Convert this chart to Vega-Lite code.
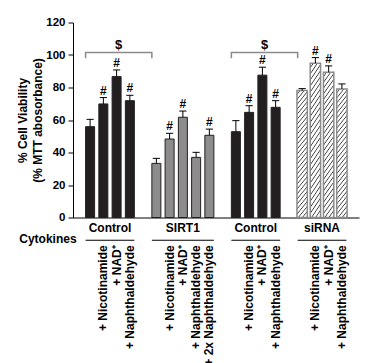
{
  "$schema": "https://vega.github.io/schema/vega-lite/v6.json",
  "width": 286,
  "height": 195,
  "autosize": "none",
  "padding": {"left": 73, "top": 22.5, "right": 13, "bottom": 145.5},
  "background": "white",
  "config": {
    "view": {"stroke": null},
    "font": "Liberation Sans",
    "axis": {"labelFont": "Liberation Sans", "titleFont": "Liberation Sans", "labelFontWeight": "bold", "titleFontWeight": "bold", "labelColor": "black", "titleColor": "black", "domainColor": "black", "tickColor": "black", "grid": false},
    "axisY": {"tickCount": 7, "tickSize": 5, "labelFontSize": 11.5, "labelPadding": 3, "labelOverlap": false, "labelFlush": false, "titleFontSize": 12, "titleLineHeight": 15, "titlePadding": 1},
    "axisX": {"labels": false, "ticks": false, "domainColor": "black", "domainWidth": 1}
  },
  "datasets": {
    "bars": [
      {"bar": "C1", "kind": "black", "value": 55.9, "upper": 60.4, "sig": "", "label": ""},
      {"bar": "C2", "kind": "black", "value": 69.9, "upper": 73.8, "sig": "#", "label": "+ Nicotinamide"},
      {"bar": "C3", "kind": "black", "value": 86.7, "upper": 90.8, "sig": "#", "label": "+ NAD⁺"},
      {"bar": "C4", "kind": "black", "value": 71.9, "upper": 75.2, "sig": "#", "label": "+ Naphthaldehyde"},
      {"bar": "S1", "kind": "gray", "value": 33.3, "upper": 36.4, "sig": "", "label": ""},
      {"bar": "S2", "kind": "gray", "value": 48.3, "upper": 51.8, "sig": "#", "label": "+ Nicotinamide"},
      {"bar": "S3", "kind": "gray", "value": 61.7, "upper": 65.5, "sig": "#", "label": "+ NAD⁺"},
      {"bar": "S4", "kind": "gray", "value": 37.0, "upper": 40.1, "sig": "", "label": "+ Naphthaldehyde"},
      {"bar": "S5", "kind": "gray", "value": 50.6, "upper": 54.4, "sig": "#", "label": "+ 2x Naphthaldehyde"},
      {"bar": "D1", "kind": "black", "value": 52.8, "upper": 59.6, "sig": "", "label": ""},
      {"bar": "D2", "kind": "black", "value": 64.7, "upper": 68.8, "sig": "#", "label": "+ Nicotinamide"},
      {"bar": "D3", "kind": "black", "value": 87.6, "upper": 92.5, "sig": "#", "label": "+ NAD⁺"},
      {"bar": "D4", "kind": "black", "value": 67.8, "upper": 71.9, "sig": "#", "label": "+ Naphthaldehyde"},
      {"bar": "R1", "kind": "hatch", "value": 78.1, "upper": 79.3, "sig": "", "label": ""},
      {"bar": "R2", "kind": "hatch", "value": 95.0, "upper": 98.4, "sig": "#", "label": "+ Nicotinamide"},
      {"bar": "R3", "kind": "hatch", "value": 89.4, "upper": 93.3, "sig": "#", "label": "+ NAD⁺"},
      {"bar": "R4", "kind": "hatch", "value": 79.1, "upper": 82.2, "sig": "", "label": "+ Naphthaldehyde"}
    ],
    "groups": [
      {"group": "Control", "first": "C1", "last": "C4", "mid": "C2", "n": 4},
      {"group": "SIRT1", "first": "S1", "last": "S5", "mid": "S3", "n": 5},
      {"group": "Control", "first": "D1", "last": "D4", "mid": "D2", "n": 4},
      {"group": "siRNA", "first": "R1", "last": "R4", "mid": "R2", "n": 4}
    ],
    "brackets": [
      {"br": "b1", "bar": "C1", "y": 98.0, "o": 0},
      {"br": "b1", "bar": "C1", "y": 101.5, "o": 1},
      {"br": "b1", "bar": "S1", "y": 101.5, "o": 2},
      {"br": "b1", "bar": "S1", "y": 98.0, "o": 3},
      {"br": "b2", "bar": "D1", "y": 98.0, "o": 0},
      {"br": "b2", "bar": "D1", "y": 101.5, "o": 1},
      {"br": "b2", "bar": "R1", "y": 101.5, "o": 2},
      {"br": "b2", "bar": "R1", "y": 98.0, "o": 3}
    ],
    "bracketLabels": [
      {"mid": "C3", "sym": "$", "y": 101.5},
      {"mid": "D3", "sym": "$", "y": 101.5}
    ]
  },
  "layer": [
    {
      "data": {"name": "bars"},
      "transform": [{"filter": "datum.kind != 'hatch'"}],
      "mark": {"type": "bar", "stroke": "#231f20", "strokeWidth": 1},
      "encoding": {
        "x": {"field": "bar", "type": "nominal", "sort": null,
          "scale": {"domain": ["C1","C2","C3","C4","gapA","S1","S2","S3","S4","S5","gapB","D1","D2","D3","D4","gapC","R1","R2","R3","R4"], "paddingInner": 0.32, "paddingOuter": 0.95},
          "axis": {"title": null}},
        "y": {"field": "value", "type": "quantitative",
          "scale": {"domain": [0, 120], "nice": false},
          "axis": {"title": ["% Cell Viability", "(% MTT abosorbance)"]}},
        "fill": {"field": "kind", "type": "nominal", "scale": {"domain": ["black", "gray"], "range": ["#231f20", "#8c8c8c"]}, "legend": null}
      }
    },
    {
      "data": {"name": "bars"},
      "transform": [{"filter": "datum.kind == 'hatch'"}],
      "mark": {"type": "bar", "stroke": "#8a8a8a", "strokeWidth": 1.5, "width": {"band": 1.15},
        "fill": {"gradient": "linear", "x1": 0, "y1": 0, "x2": 0.109, "y2": 1.089, "stops": [
          {"offset": 0, "color": "#ffffff"},
          {"offset": 0.0196, "color": "#ffffff"}, {"offset": 0.0279, "color": "#3a3a3a"}, {"offset": 0.0357, "color": "#ffffff"},
          {"offset": 0.0553, "color": "#ffffff"}, {"offset": 0.0636, "color": "#3a3a3a"}, {"offset": 0.0714, "color": "#ffffff"},
          {"offset": 0.0910, "color": "#ffffff"}, {"offset": 0.0993, "color": "#3a3a3a"}, {"offset": 0.1071, "color": "#ffffff"},
          {"offset": 0.1267, "color": "#ffffff"}, {"offset": 0.1350, "color": "#3a3a3a"}, {"offset": 0.1429, "color": "#ffffff"},
          {"offset": 0.1625, "color": "#ffffff"}, {"offset": 0.1708, "color": "#3a3a3a"}, {"offset": 0.1786, "color": "#ffffff"},
          {"offset": 0.1982, "color": "#ffffff"}, {"offset": 0.2065, "color": "#3a3a3a"}, {"offset": 0.2143, "color": "#ffffff"},
          {"offset": 0.2339, "color": "#ffffff"}, {"offset": 0.2422, "color": "#3a3a3a"}, {"offset": 0.2500, "color": "#ffffff"},
          {"offset": 0.2696, "color": "#ffffff"}, {"offset": 0.2779, "color": "#3a3a3a"}, {"offset": 0.2857, "color": "#ffffff"},
          {"offset": 0.3053, "color": "#ffffff"}, {"offset": 0.3136, "color": "#3a3a3a"}, {"offset": 0.3214, "color": "#ffffff"},
          {"offset": 0.3410, "color": "#ffffff"}, {"offset": 0.3493, "color": "#3a3a3a"}, {"offset": 0.3571, "color": "#ffffff"},
          {"offset": 0.3767, "color": "#ffffff"}, {"offset": 0.3850, "color": "#3a3a3a"}, {"offset": 0.3929, "color": "#ffffff"},
          {"offset": 0.4125, "color": "#ffffff"}, {"offset": 0.4208, "color": "#3a3a3a"}, {"offset": 0.4286, "color": "#ffffff"},
          {"offset": 0.4482, "color": "#ffffff"}, {"offset": 0.4565, "color": "#3a3a3a"}, {"offset": 0.4643, "color": "#ffffff"},
          {"offset": 0.4839, "color": "#ffffff"}, {"offset": 0.4922, "color": "#3a3a3a"}, {"offset": 0.5000, "color": "#ffffff"},
          {"offset": 0.5196, "color": "#ffffff"}, {"offset": 0.5279, "color": "#3a3a3a"}, {"offset": 0.5357, "color": "#ffffff"},
          {"offset": 0.5553, "color": "#ffffff"}, {"offset": 0.5636, "color": "#3a3a3a"}, {"offset": 0.5714, "color": "#ffffff"},
          {"offset": 0.5910, "color": "#ffffff"}, {"offset": 0.5993, "color": "#3a3a3a"}, {"offset": 0.6071, "color": "#ffffff"},
          {"offset": 0.6267, "color": "#ffffff"}, {"offset": 0.6350, "color": "#3a3a3a"}, {"offset": 0.6429, "color": "#ffffff"},
          {"offset": 0.6625, "color": "#ffffff"}, {"offset": 0.6708, "color": "#3a3a3a"}, {"offset": 0.6786, "color": "#ffffff"},
          {"offset": 0.6982, "color": "#ffffff"}, {"offset": 0.7065, "color": "#3a3a3a"}, {"offset": 0.7143, "color": "#ffffff"},
          {"offset": 0.7339, "color": "#ffffff"}, {"offset": 0.7422, "color": "#3a3a3a"}, {"offset": 0.7500, "color": "#ffffff"},
          {"offset": 0.7696, "color": "#ffffff"}, {"offset": 0.7779, "color": "#3a3a3a"}, {"offset": 0.7857, "color": "#ffffff"},
          {"offset": 0.8053, "color": "#ffffff"}, {"offset": 0.8136, "color": "#3a3a3a"}, {"offset": 0.8214, "color": "#ffffff"},
          {"offset": 0.8410, "color": "#ffffff"}, {"offset": 0.8493, "color": "#3a3a3a"}, {"offset": 0.8571, "color": "#ffffff"},
          {"offset": 0.8767, "color": "#ffffff"}, {"offset": 0.8850, "color": "#3a3a3a"}, {"offset": 0.8929, "color": "#ffffff"},
          {"offset": 0.9125, "color": "#ffffff"}, {"offset": 0.9208, "color": "#3a3a3a"}, {"offset": 0.9286, "color": "#ffffff"},
          {"offset": 0.9482, "color": "#ffffff"}, {"offset": 0.9565, "color": "#3a3a3a"}, {"offset": 0.9643, "color": "#ffffff"},
          {"offset": 0.9839, "color": "#ffffff"}, {"offset": 0.9922, "color": "#3a3a3a"}, {"offset": 1.0, "color": "#ffffff"}
        ]}},
      "encoding": {
        "x": {"field": "bar", "type": "nominal"},
        "y": {"field": "value", "type": "quantitative", "scale": {"domain": [0, 120], "nice": false}}
      }
    },
    {
      "data": {"name": "bars"},
      "mark": {"type": "rule", "color": "black", "strokeWidth": 1},
      "encoding": {
        "x": {"field": "bar", "type": "nominal", "bandPosition": 0.5},
        "y": {"field": "value", "type": "quantitative", "scale": {"domain": [0, 120], "nice": false}},
        "y2": {"field": "upper"}
      }
    },
    {
      "data": {"name": "bars"},
      "mark": {"type": "rule", "color": "black", "strokeWidth": 1},
      "encoding": {
        "x": {"field": "bar", "type": "nominal", "bandPosition": 0.1},
        "x2": {"field": "bar", "bandPosition": 0.9},
        "y": {"field": "upper", "type": "quantitative", "scale": {"domain": [0, 120], "nice": false}}
      }
    },
    {
      "data": {"name": "bars"},
      "mark": {"type": "text", "font": "Liberation Sans", "fontWeight": "bold", "fontSize": 12, "baseline": "alphabetic", "dy": -3, "color": "black"},
      "encoding": {
        "x": {"field": "bar", "type": "nominal", "bandPosition": 0.5},
        "y": {"field": "upper", "type": "quantitative", "scale": {"domain": [0, 120], "nice": false}},
        "text": {"field": "sig"}
      }
    },
    {
      "data": {"name": "brackets"},
      "mark": {"type": "line", "color": "#8a8a8a", "strokeWidth": 1.5, "interpolate": "linear"},
      "encoding": {
        "x": {"field": "bar", "type": "nominal", "bandPosition": 0},
        "y": {"field": "y", "type": "quantitative", "scale": {"domain": [0, 120], "nice": false}},
        "detail": {"field": "br"},
        "order": {"field": "o", "type": "quantitative"}
      }
    },
    {
      "data": {"name": "bracketLabels"},
      "mark": {"type": "text", "font": "Liberation Sans", "fontWeight": "bold", "fontSize": 13, "baseline": "alphabetic", "dy": -4, "color": "black"},
      "encoding": {
        "x": {"field": "mid", "type": "nominal", "bandPosition": 0.7353},
        "y": {"field": "y", "type": "quantitative", "scale": {"domain": [0, 120], "nice": false}},
        "text": {"field": "sym"}
      }
    },
    {
      "data": {"name": "groups"},
      "transform": [{"filter": "datum.n == 4"}],
      "mark": {"type": "text", "font": "Liberation Sans", "fontWeight": "bold", "fontSize": 12, "baseline": "middle", "color": "black"},
      "encoding": {
        "x": {"field": "mid", "type": "nominal", "bandPosition": 1.235},
        "y": {"datum": -6.6, "type": "quantitative", "scale": {"domain": [0, 120], "nice": false}},
        "text": {"field": "group"}
      }
    },
    {
      "data": {"name": "groups"},
      "transform": [{"filter": "datum.n == 5"}],
      "mark": {"type": "text", "font": "Liberation Sans", "fontWeight": "bold", "fontSize": 12, "baseline": "middle", "color": "black"},
      "encoding": {
        "x": {"field": "mid", "type": "nominal", "bandPosition": 0.5},
        "y": {"datum": -6.6, "type": "quantitative", "scale": {"domain": [0, 120], "nice": false}},
        "text": {"field": "group"}
      }
    },
    {
      "data": {"name": "groups"},
      "mark": {"type": "rule", "color": "black", "strokeWidth": 1},
      "encoding": {
        "x": {"field": "first", "type": "nominal", "bandPosition": 0},
        "x2": {"field": "last", "bandPosition": 1},
        "y": {"datum": -14.0, "type": "quantitative", "scale": {"domain": [0, 120], "nice": false}}
      }
    },
    {
      "data": {"name": "bars"},
      "mark": {"type": "text", "font": "Liberation Sans", "fontWeight": "bold", "fontSize": 12, "angle": 270, "align": "right", "baseline": "middle", "color": "black"},
      "encoding": {
        "x": {"field": "bar", "type": "nominal", "bandPosition": 0.5},
        "y": {"datum": -17.1, "type": "quantitative", "scale": {"domain": [0, 120], "nice": false}},
        "text": {"field": "label"}
      }
    },
    {
      "data": {"values": [{"t": "Cytokines"}]},
      "mark": {"type": "text", "font": "Liberation Sans", "fontWeight": "bold", "fontSize": 12, "align": "right", "baseline": "middle", "dx": -9, "color": "black"},
      "encoding": {
        "x": {"datum": "C1", "type": "nominal", "bandPosition": 0},
        "y": {"datum": -13.4, "type": "quantitative", "scale": {"domain": [0, 120], "nice": false}},
        "text": {"field": "t"}
      }
    }
  ]
}
